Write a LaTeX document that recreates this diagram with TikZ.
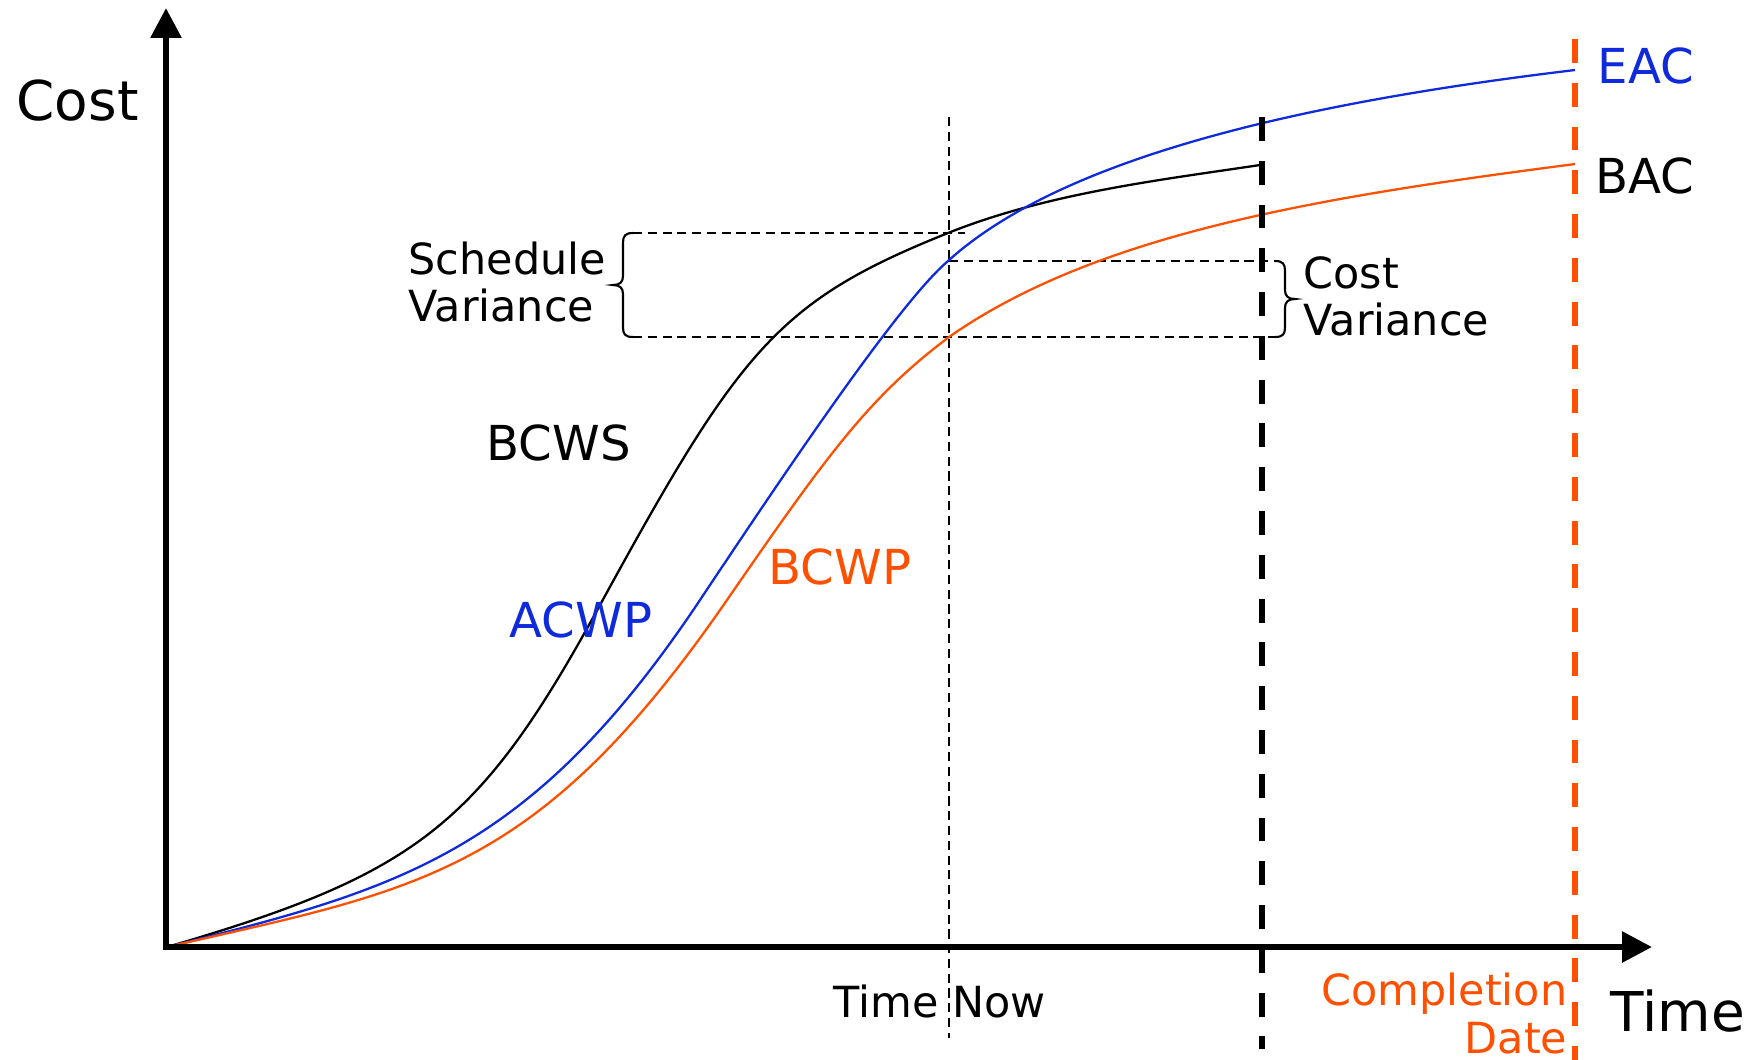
\documentclass[tikz,border=0pt]{standalone}
\usepackage{fontspec}
\setmainfont{DejaVu Sans}
\usetikzlibrary{arrows.meta}
\definecolor{evblue}{RGB}{14,42,218}
\definecolor{evorange}{RGB}{255,80,0}
\begin{document}
\begin{tikzpicture}[x=0.01cm,y=-0.01cm,
  axisline/.style={line width=1.7pt, -{Triangle[length=8.5pt,width=8.5pt]}},
  curve/.style={line width=0.65pt, line join=round},
  guide/.style={line width=0.5pt, dash pattern=on 2.6pt off 1.6pt},
  bigdash/.style={line width=1.7pt, dash pattern=on 6.8pt off 5.65pt},
  bracestyle/.style={line width=0.6pt},
  biglabel/.style={font=\fontsize{15.6}{18}\selectfont, inner sep=0pt},
  curvelabel/.style={font=\fontsize{13.7}{16}\selectfont, inner sep=0pt},
  smalllabel/.style={font=\fontsize{12.2}{14}\selectfont, inner sep=0pt},
]
\useasboundingbox (0,0) rectangle (1753,1059);
\clip (0,0) rectangle (1753,1059);

% coordinates
\coordinate (O) at (167,947);
\coordinate (ybot) at (166,950);
\coordinate (ytip) at (166,8);
\coordinate (xbot) at (163,947);
\coordinate (xtip) at (1652,947);

% guide lines
\coordinate (tn1) at (949,117);
\coordinate (tn2) at (949,1038);
\draw[guide] (tn1) -- (tn2);
\coordinate (svt1) at (633,233);
\coordinate (svt2) at (965,233);
\draw[guide] (svt1) -- (svt2);
\coordinate (svb1) at (633,337);
\coordinate (svb2) at (1275,337);
\draw[guide] (svb1) -- (svb2);
\coordinate (cvt1) at (949,261);
\coordinate (cvt2) at (1275,261);
\draw[guide] (cvt1) -- (cvt2);

% braces
\draw[bracestyle] (svt1) .. controls (625,233) and (623,236) .. (623,243) -- (623,276)
  .. controls (623,282) and (620,285) .. (613,285)
  .. controls (620,285) and (623,288) .. (623,294) -- (623,327)
  .. controls (623,334) and (625,337) .. (svb1);
\draw[bracestyle] (cvt2) .. controls (1283,261) and (1285,264) .. (1285,271) -- (1285,290)
  .. controls (1285,296) and (1288,299) .. (1295,299)
  .. controls (1288,299) and (1285,302) .. (1285,308) -- (1285,327)
  .. controls (1285,334) and (1283,337) .. (svb2);

% curves
\coordinate (bcwsA) at (600,605);
\coordinate (bcwsB) at (948,233);
\coordinate (bcwsEnd) at (1260,165);
\draw[curve] (O) .. controls (417,874) and (480,825) .. (bcwsA)
  .. controls (740,349) and (778,301) .. (bcwsB)
  .. controls (1048,193) and (1160,180) .. (bcwsEnd);

\coordinate (acwpA) at (700,600);
\coordinate (acwpB) at (948,261);
\coordinate (acwpEnd) at (1575,70);
\draw[curve, evblue] (O) .. controls (397,889.5) and (530,855) .. (acwpA)
  .. controls (780,480) and (898,303.5) .. (acwpB)
  .. controls (1068,152) and (1325,100) .. (acwpEnd);

\coordinate (bcwpA) at (727,600);
\coordinate (bcwpB) at (949,337);
\coordinate (bcwpEnd) at (1575,164);
\draw[curve, evorange] (O) .. controls (417,889.5) and (537,875.5) .. (bcwpA)
  .. controls (827,455) and (869,397) .. (bcwpB)
  .. controls (1099,232) and (1325,196.5) .. (bcwpEnd);

% thick dashed lines
\coordinate (bd1) at (1262,117);
\coordinate (bd2) at (1262,1049);
\draw[bigdash] (bd1) -- (bd2);
\coordinate (od1) at (1575,39);
\coordinate (od2) at (1575,1080);
\draw[bigdash, evorange] (od1) -- (od2);

% axes
\draw[axisline] (ybot) -- (ytip);
\draw[axisline] (xbot) -- (xtip);

% labels
\node[biglabel, anchor=base west] (costlbl) at (16,120) {Cost};
\node[biglabel, anchor=base west] (timelbl) at (1610,1031) {Time};
\node[curvelabel, anchor=base west, text=evblue] (eac) at (1597,83) {EAC};
\node[curvelabel, anchor=base west] (bac) at (1595,193) {BAC};
\node[curvelabel, anchor=base west] (bcws) at (486,460) {BCWS};
\node[curvelabel, anchor=base west, text=evblue] (acwp) at (509,637) {ACWP};
\node[curvelabel, anchor=base west, text=evorange] (bcwp) at (768,584) {BCWP};
\node[smalllabel, anchor=base west] (sv1) at (408,274) {Schedule};
\node[smalllabel, anchor=base west] (sv2) at (408,321) {Variance};
\node[smalllabel, anchor=base west] (cv1) at (1303,288) {Cost};
\node[smalllabel, anchor=base west] (cv2) at (1303,335) {Variance};
\node[smalllabel, anchor=base west] (tnow) at (833,1017) {Time Now};
\node[smalllabel, anchor=base east, text=evorange] (cd1) at (1568,1005) {Completion};
\node[smalllabel, anchor=base east, text=evorange] (cd2) at (1568,1053) {Date};
\end{tikzpicture}
\end{document}
